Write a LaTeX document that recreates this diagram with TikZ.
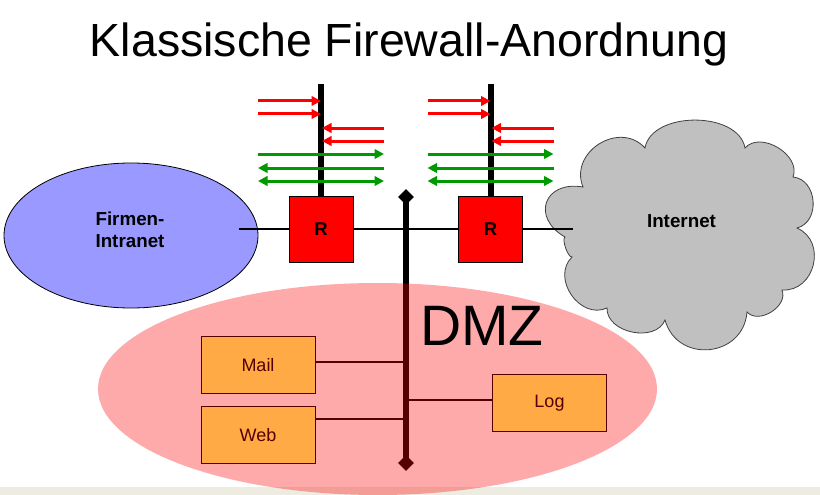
\documentclass[tikz,border=0pt]{standalone}
\usepackage{fontspec}
\setmainfont{Liberation Sans}
\usetikzlibrary{shapes.geometric,arrows.meta}
\definecolor{intra}{HTML}{9999FF}
\definecolor{cloudgray}{HTML}{C0C0C0}
\definecolor{cloudline}{HTML}{404040}
\definecolor{fwgreen}{HTML}{009900}
\definecolor{srvyellow}{HTML}{FFFF66}
\definecolor{band}{HTML}{EEECE1}
\begin{document}
\begin{tikzpicture}[x=1pt,y=-1pt,
  router/.style={draw=black, line width=1pt, fill=red, minimum width=64pt, minimum height=66pt, inner sep=0pt, font=\fontsize{18.5}{20}\selectfont\bfseries},
  server/.style={draw=black, line width=1pt, fill=srvyellow, minimum width=114pt, minimum height=57pt, inner sep=0pt, font=\fontsize{18}{20}\selectfont},
  wall/.style={line width=6pt},
  net/.style={line width=2pt},
  tap/.style={line width=1.6pt},
  endmark/.style={diamond, fill=black, minimum size=16pt, inner sep=0pt},
  flowred/.style={draw=red, line width=3pt, -{Triangle[length=9.5pt,width=9.5pt]}},
  flowgreen/.style={draw=fwgreen, line width=3pt, -{Triangle[length=9.5pt,width=9.5pt]}},
  flowboth/.style={draw=fwgreen, line width=3pt, {Triangle[length=9.5pt,width=9.5pt]}-{Triangle[length=9.5pt,width=9.5pt]}},
  bump/.style={bend left=80, looseness=#1},
  lbl/.style={font=\fontsize{18.8}{22}\selectfont\bfseries, align=center, inner sep=0pt}
]
\useasboundingbox (0,0) rectangle (820,495);
\fill[band] (0,487) rectangle (820,495);

% title
\node[anchor=base, inner sep=0pt, font=\fontsize{46.5}{52}\selectfont] (title) at (409,57) {Klassische Firewall-Anordnung};

% intranet
\node[ellipse, draw=black, line width=0.8pt, fill=intra, minimum width=254pt, minimum height=145pt, inner sep=0pt] (intranet) at (131,235.5) {};
\node[lbl] (intranetlabel) at (130,229.5) {Firmen-\\Intranet};

% internet cloud
\filldraw[fill=cloudgray, draw=cloudline, line width=0.8pt]
  (583,187) to[bump=1.32] (645,148) to[bump=0.97] (745,148) to[bump=1.07] (793,177)
  to[bump=1.23] (797,228) to[bump=1.33] (782,290) to[bump=1.08] (747,312)
  to[bump=1.42] (665,320) to[bump=1.08] (607,308) to[bump=1.23] (572,257)
  to[bump=0.5] (565,237) to[bump=1.9] (583,187) -- cycle;
\node[lbl] (internetlabel) at (681.5,221) {Internet};

% routers
\node[router] (r1) at (321,229) {R};
\node[router] (r2) at (490.5,229) {R};

% firewall walls and flows
\foreach \r/\cx in {1/321,2/490.5}{
  \coordinate (wtop\r) at (\cx,84);
  \draw[wall] (wtop\r) -- (r\r.north);
  \coordinate (ra\r) at (\cx-63,101);  \coordinate (rat\r) at (\cx,101);
  \coordinate (rb\r) at (\cx-63,114);  \coordinate (rbt\r) at (\cx,114);
  \coordinate (rc\r) at (\cx+63,128);  \coordinate (rct\r) at (\cx+1,128);
  \coordinate (rd\r) at (\cx+63,141);  \coordinate (rdt\r) at (\cx+1,141);
  \coordinate (ga\r) at (\cx-63,154);  \coordinate (gat\r) at (\cx+63,154);
  \coordinate (gb\r) at (\cx+63,168);  \coordinate (gbt\r) at (\cx-63,168);
  \coordinate (gc\r) at (\cx-63,181);  \coordinate (gct\r) at (\cx+63,181);
  \draw[flowred] (ra\r) -- (rat\r);
  \draw[flowred] (rb\r) -- (rbt\r);
  \draw[flowred] (rc\r) -- (rct\r);
  \draw[flowred] (rd\r) -- (rdt\r);
  \draw[flowgreen] (ga\r) -- (gat\r);
  \draw[flowgreen] (gb\r) -- (gbt\r);
  \draw[flowboth] (gc\r) -- (gct\r);
}

% network line
\coordinate (lanend) at (239,229);
\coordinate (inetend) at (573,229);
\draw[net] (lanend) -- (r1.west);
\draw[net] (r1.east) -- (r2.west);
\draw[net] (r2.east) -- (inetend);

% DMZ bus
\draw[line width=5.5pt] (406,197) coordinate (bustopc) -- (406,463) coordinate (busbotc);
\node[endmark] (bustop) at (bustopc) {};
\node[endmark] (busbot) at (busbotc) {};

% servers
\node[server] (mail) at (258,365) {Mail};
\node[server] (web) at (258,435) {Web};
\node[server] (log) at (549.5,403) {Log};
\coordinate (mt) at (406,362);
\coordinate (wt) at (406,419);
\coordinate (lt) at (406,400);
\draw[tap] (mt -| mail.east) -- (mt);
\draw[tap] (wt -| web.east) -- (wt);
\draw[tap] (lt) -- (lt -| log.west);

% DMZ zone overlay
\node[ellipse, fill=red, fill opacity=0.333, minimum width=559pt, minimum height=212pt, inner sep=0pt] (dmz) at (377.5,389) {};
\node[anchor=base west, inner sep=0pt, font=\fontsize{57}{60}\selectfont] (dmzlabel) at (420,345) {DMZ};
\end{tikzpicture}
\end{document}
